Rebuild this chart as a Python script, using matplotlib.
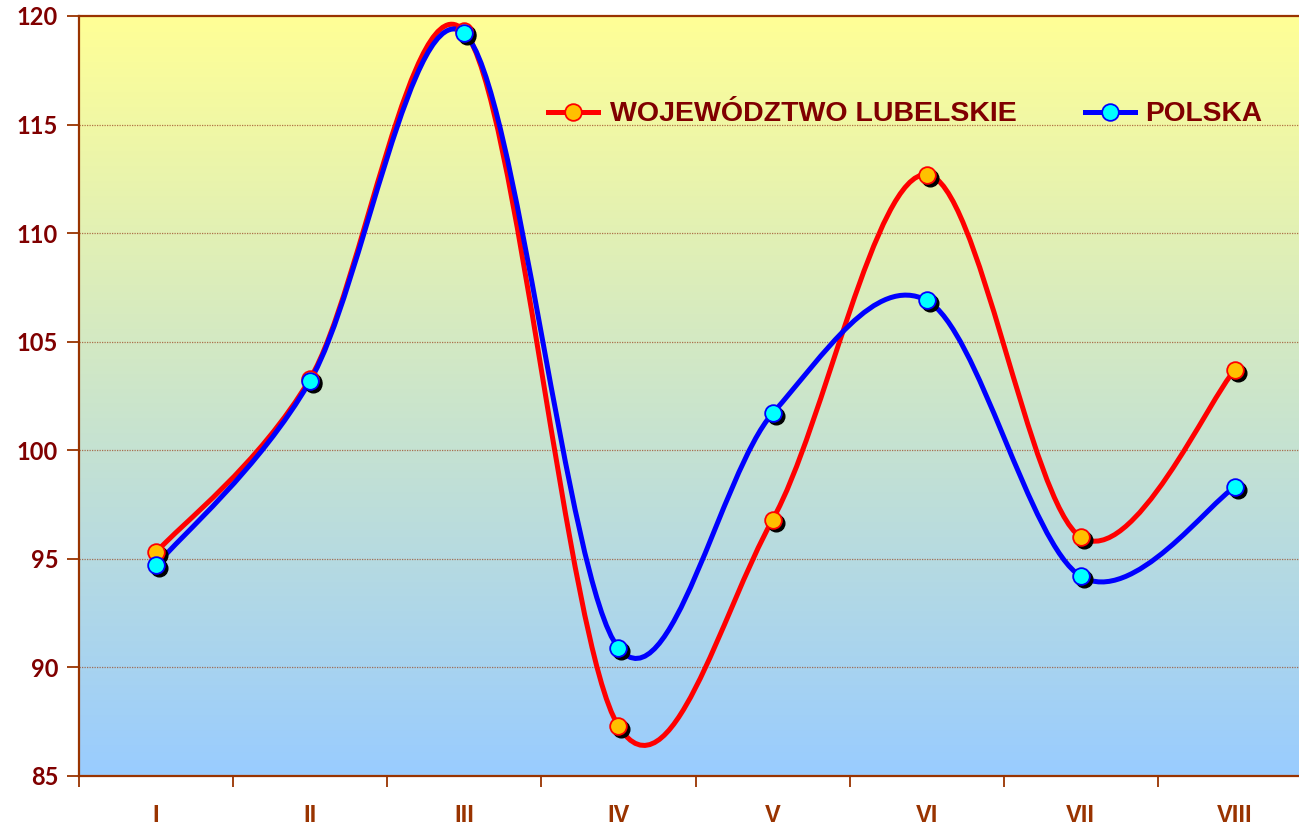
import numpy as np
import matplotlib
matplotlib.use("Agg")
import matplotlib.pyplot as plt
from matplotlib.path import Path
from matplotlib.patches import PathPatch
from matplotlib.lines import Line2D
import matplotlib.transforms as mtransforms

# Data
months = ["I", "II", "III", "IV", "V", "VI", "VII", "VIII"]
lubelskie = [95.3, 103.3, 119.3, 87.3, 96.8, 112.7, 96.0, 103.7]
polska = [94.7, 103.2, 119.2, 90.9, 101.7, 106.9, 94.2, 98.3]

y_ticks = [85, 90, 95, 100, 105, 110, 115, 120]

BROWN = "#993300"
DARK_RED = "#800000"


def smooth_path(xs, ys):
    # Excel-like smoothed line: cubic Bezier segments (Catmull-Rom control points)
    pts = np.column_stack([xs, ys]).astype(float)
    ext = np.vstack([pts[0], pts, pts[-1]])
    verts = [tuple(pts[0])]
    codes = [Path.MOVETO]
    for i in range(len(pts) - 1):
        p0, p1, p2, p3 = ext[i], ext[i + 1], ext[i + 2], ext[i + 3]
        c1 = p1 + (p2 - p0) / 6.0
        c2 = p2 - (p3 - p1) / 6.0
        verts += [tuple(c1), tuple(c2), tuple(p2)]
        codes += [Path.CURVE4] * 3
    return Path(verts, codes)


fig = plt.figure(figsize=(12.99, 8.32), dpi=100)
ax = fig.add_axes([79 / 1299, 1 - 776 / 832, (1312 - 79) / 1299, (776 - 16) / 832])

x = np.arange(len(months))
ax.set_xlim(-0.5, len(months) - 0.5)
ax.set_ylim(85, 120)

# gradient background
grad = np.linspace(0, 1, 256).reshape(-1, 1)
top = np.array([255, 255, 150]) / 255
bottom = np.array([153, 204, 255]) / 255
img = top[None, None, :] * (1 - grad[:, :, None]) + bottom[None, None, :] * grad[:, :, None]
ax.imshow(img, extent=[-0.5, len(months) - 0.5, 85, 120], aspect="auto", zorder=0)

for yv in y_ticks[1:-1]:
    ax.axhline(yv, color="#A0522D", lw=0.9, ls=(0, (1, 1)), zorder=1, alpha=0.8)

series = [
    (lubelskie, "red", "#FFC000", "WOJEWÓDZTWO LUBELSKIE"),
    (polska, "#0000FF", "#00FFFF", "POLSKA"),
]

shadow = mtransforms.offset_copy(ax.transData, fig=fig, x=3, y=-3, units="dots")
for vals, lc, fc, name in series:
    ax.add_patch(PathPatch(smooth_path(x, vals), facecolor="none", edgecolor=lc,
                           lw=3.6, zorder=3, capstyle="round", joinstyle="round"))
for vals, lc, fc, name in series:
    ax.plot(x, vals, ls="none", marker="o", ms=12, mfc="black", mec="black",
            transform=shadow, zorder=4)
    ax.plot(x, vals, ls="none", marker="o", ms=12, mfc=fc, mec=lc, mew=1.3, zorder=5)

# legend drawn by hand (pixel positions from the reference)
fig.canvas.draw()
renderer = fig.canvas.get_renderer()
leg_items = [(548, 610, 1016, "WOJEWÓDZTWO LUBELSKIE"), (1085, 1145, 1262, "POLSKA")]
legend_texts = []
for (lx, tx0, tx1, label), (vals, lc, fc, name) in zip(leg_items, series):
    ax0 = (lx - 79) / 1233
    ay = (776 - 112) / 760
    ax.add_line(Line2D([ax0, ax0 + 50 / 1233], [ay, ay], color=lc, lw=3.6,
                       transform=ax.transAxes, zorder=6))
    ax.plot([ax0 + 25 / 1233], [ay], marker="o", ms=12, mfc=fc, mec=lc, mew=1.3,
            transform=ax.transAxes, zorder=7)
    t = ax.text((tx0 - 79) / 1233, ay - 0.002, label, transform=ax.transAxes,
                va="center", ha="left", fontsize=22, fontweight="bold", color=DARK_RED,
                family=["Liberation Sans", "DejaVu Sans"], zorder=7)
    legend_texts.append((t, tx1 - tx0))

# shrink legend text so it spans the same width as in the reference
for t, target in legend_texts:
    w = t.get_window_extent(renderer).width
    if w > target:
        t.set_fontsize(t.get_fontsize() * target / w)

# axes styling
ax.set_yticks(y_ticks)
ax.set_yticklabels([str(v) for v in y_ticks], fontsize=17, color=DARK_RED,
                   family=["Lato", "DejaVu Sans"], fontweight="bold")
ax.set_xticks(np.arange(len(months) + 1) - 0.5)
ax.set_xticklabels([])
ax.set_xticks(x, minor=True)
ax.set_xticklabels(months, minor=True, fontsize=17, color=BROWN, fontweight="bold",
                   family=["Liberation Sans", "DejaVu Sans"])
ax.tick_params(axis="x", which="major", direction="out", length=8, width=1.3, color=BROWN)
ax.tick_params(axis="x", which="minor", length=0, pad=20)
ax.tick_params(axis="y", direction="out", length=9, width=1.3, color=BROWN, pad=6)

for side in ["left", "bottom", "top"]:
    ax.spines[side].set_color(BROWN)
    ax.spines[side].set_linewidth(1.6)
ax.spines["right"].set_visible(False)

fig.savefig("out.png", dpi=100)
